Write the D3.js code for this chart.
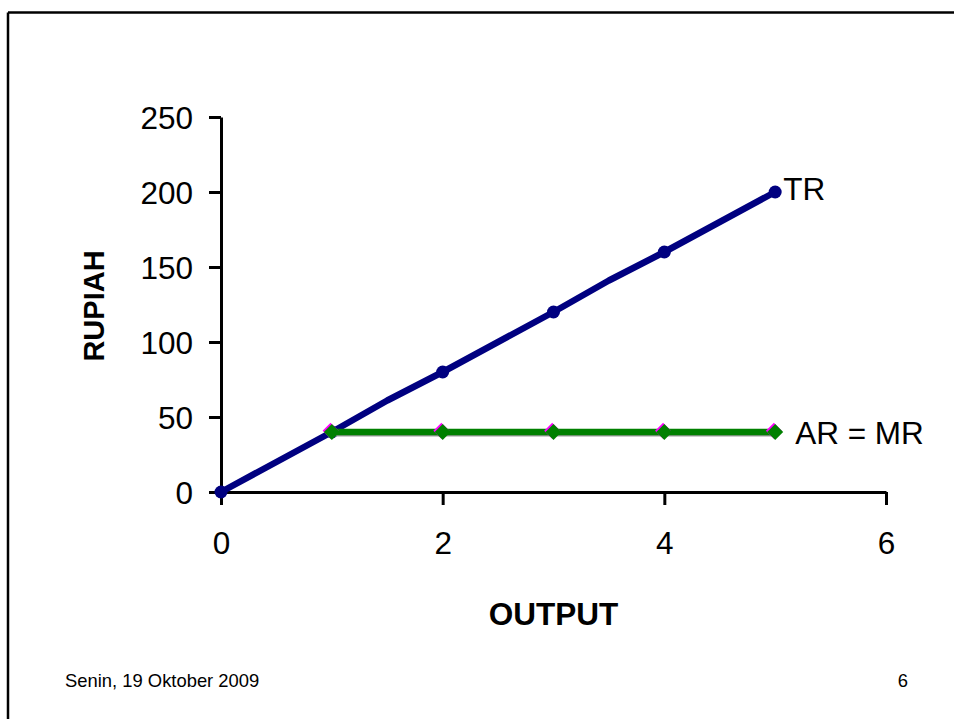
<!DOCTYPE html>
<html><head><meta charset="utf-8">
<script src="https://cdn.jsdelivr.net/npm/d3@7"></script>
<style>body{margin:0;background:#fff}svg{display:block}text{font-family:"Liberation Sans",Arial,sans-serif}</style>
</head><body>
<svg id="c" width="954" height="719"></svg>
<script>
// Data
const trX = [0, 1, 1.5, 2, 3, 3.5, 4, 5];
const trY = [0, 40, 61, 80, 120, 141, 160, 200];
const trMarked = [true, true, false, true, true, false, true, true];
const arX = [1, 2, 3, 4, 5];
const arY = [40, 40, 40, 40, 40];
const xTicks = [0, 2, 4, 6];
const yTicks = [0, 50, 100, 150, 200, 250];
const xTitle = "OUTPUT", yTitle = "RUPIAH";
const trLabel = "TR", arLabel = "AR = MR";
const footerLeft = "Senin, 19 Oktober 2009", footerRight = "6";

const svg = d3.select("#c");
// slide frame
svg.append("line").attr("x1",8).attr("y1",12.5).attr("x2",8).attr("y2",719).attr("stroke","#000").attr("stroke-width",2.5);
svg.append("line").attr("x1",8).attr("y1",12.5).attr("x2",954).attr("y2",12.5).attr("stroke","#000").attr("stroke-width",2.5);

const x = d3.scaleLinear().domain([0,6]).range([221,886]);
const y = d3.scaleLinear().domain([0,250]).range([492,117]);

const FS = 31.5;
const xAxis = svg.append("g").attr("transform","translate(0,492)")
  .call(d3.axisBottom(x).tickValues(xTicks).tickSize(13).tickSizeOuter(0).tickPadding(27).tickFormat(d3.format("d")));
const yAxis = svg.append("g").attr("transform","translate(221,0)")
  .call(d3.axisLeft(y).tickValues(yTicks).tickSize(12).tickSizeOuter(0).tickPadding(16).tickFormat(d3.format("d")));
[xAxis,yAxis].forEach(g=>{
  g.selectAll("path.domain").attr("stroke","#000").attr("stroke-width",3);
  g.selectAll(".tick line").attr("stroke","#000").attr("stroke-width",3);
  g.selectAll(".tick text").attr("font-size",FS).attr("fill","#000").attr("font-family","Liberation Sans, Arial, sans-serif");
});
yAxis.selectAll(".tick text").attr("dy","0.35em");

// TR line
const tr = trX.map((d,i)=>({x:d,y:trY[i],m:trMarked[i]}));
const line = d3.line().x(d=>x(d.x)).y(d=>y(d.y));
svg.append("path").datum(tr).attr("d",line).attr("fill","none").attr("stroke","#000080").attr("stroke-width",6.5).attr("stroke-linejoin","round");
svg.selectAll("circle.tr").data(tr.filter(d=>d.m)).enter().append("circle")
  .attr("cx",d=>x(d.x)).attr("cy",d=>y(d.y)).attr("r",6.5).attr("fill","#000080");

// AR = MR line
const ar = arX.map((d,i)=>({x:d,y:arY[i]}));
svg.append("path").datum(ar).attr("d",line).attr("transform","translate(0,1.5)").attr("fill","none").attr("stroke","#999").attr("stroke-width",6);
svg.append("path").datum(ar).attr("d",line).attr("fill","none").attr("stroke","#008000").attr("stroke-width",6.5);
const diamondPath = "M0,-8L8,0L0,8L-8,0Z";
svg.selectAll("path.mr").data(ar).enter().append("path")
  .attr("d",diamondPath).attr("transform",d=>`translate(${x(d.x)-1.3},${y(d.y)-1.3})`).attr("fill","#ff00ff");
svg.selectAll("path.ar").data(ar).enter().append("path")
  .attr("d",diamondPath).attr("transform",d=>`translate(${x(d.x)},${y(d.y)})`).attr("fill","#008000");

// Series labels
svg.append("text").attr("x",x(5)+8).attr("y",y(200)+8).attr("font-size",FS).text(trLabel);
svg.append("text").attr("x",x(5)+20).attr("y",y(40)+12).attr("font-size",FS).text(arLabel);

// Axis titles
svg.append("text").attr("x",x(3)).attr("y",625).attr("text-anchor","middle").attr("font-size",FS).attr("font-weight","bold").text(xTitle);
svg.append("text").attr("transform","translate(104,306) rotate(-90)").attr("text-anchor","middle").attr("font-size",29).attr("font-weight","bold").text(yTitle);

// Footer
svg.append("text").attr("x",65).attr("y",687).attr("font-size",18.4).text(footerLeft);
svg.append("text").attr("x",908).attr("y",687).attr("text-anchor","end").attr("font-size",18.4).text(footerRight);
</script>
</body></html>
